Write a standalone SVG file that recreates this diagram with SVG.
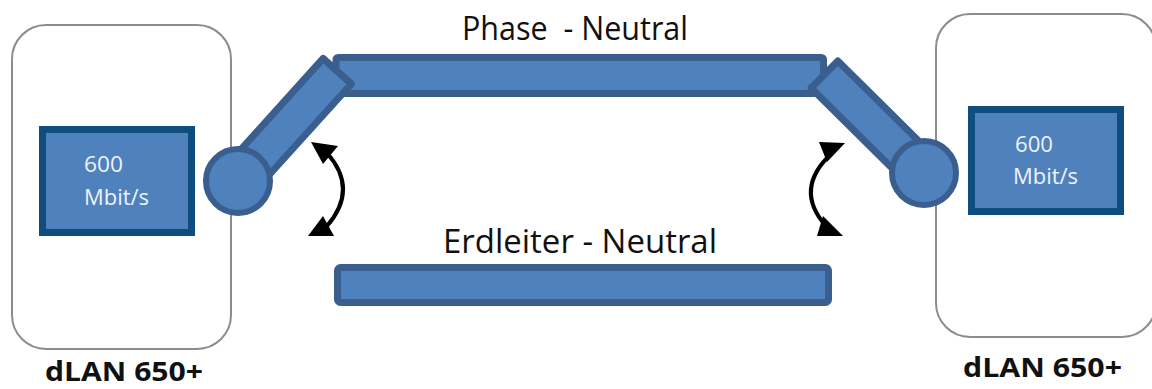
<svg xmlns="http://www.w3.org/2000/svg" width="1152" height="389" viewBox="0 0 1152 389">
<style>
.dev{fill:#ffffff;stroke:#8c8c8c;stroke-width:2}
.chip{fill:#4F81BD;stroke:#0E4D7E;stroke-width:7}
.wire{fill:#4F81BD;stroke:#3A5F8E;stroke-width:7;stroke-linejoin:round}
.joint{fill:#4F81BD;stroke:#3A5F8E;stroke-width:6}
.lbl{font-family:"Open Sans","Noto Sans",sans-serif;fill:#111111;white-space:pre}
.rate{font-family:"Open Sans","Noto Sans",sans-serif;font-size:21px;fill:#EEF3FA}
.name{font-family:"Open Sans","Noto Sans",sans-serif;font-size:26px;font-weight:bold;fill:#111111}
.arc{fill:none;stroke:#000000;stroke-width:4}
.head{fill:#000000}
</style>
<g id="device-left">
<rect class="dev" x="12" y="25" width="219" height="324" rx="34"/>
<rect class="chip" x="42.5" y="129.5" width="149" height="103"/>
<text class="rate" x="84" y="172" textLength="39" lengthAdjust="spacingAndGlyphs">600</text>
<text class="rate" x="84" y="205" textLength="65" lengthAdjust="spacingAndGlyphs">Mbit/s</text>
<text class="name" x="45" y="381" textLength="158" lengthAdjust="spacingAndGlyphs">dLAN 650+</text>
</g>
<g id="device-right">
<rect class="dev" x="936" y="14" width="220" height="323" rx="34"/>
<rect class="chip" x="971.5" y="109.5" width="149" height="102"/>
<text class="rate" x="1015" y="152" textLength="38" lengthAdjust="spacingAndGlyphs">600</text>
<text class="rate" x="1013" y="184" textLength="65" lengthAdjust="spacingAndGlyphs">Mbit/s</text>
<text class="name" x="963" y="377" textLength="159" lengthAdjust="spacingAndGlyphs">dLAN 650+</text>
</g>
<g id="connectors">
<g id="phase-neutral">
<rect class="wire" x="336" y="57.5" width="487.5" height="36" rx="2"/>
<rect class="wire" x="0" y="-19" width="148" height="38" transform="translate(238 181) rotate(-47.9)"/>
<rect class="wire" x="0" y="-19" width="140" height="38" transform="translate(924 173) rotate(-135.3)"/>
<circle class="joint" cx="238" cy="181" r="32"/>
<circle class="joint" cx="924" cy="173" r="32"/>
<text class="lbl" x="462" y="40" font-size="32" textLength="226" lengthAdjust="spacingAndGlyphs" xml:space="preserve">Phase  - Neutral</text>
</g>
<g id="erdleiter-neutral">
<rect class="wire" x="337.5" y="267.5" width="491" height="35" rx="3"/>
<text class="lbl" x="443" y="253" font-size="32" textLength="274" lengthAdjust="spacingAndGlyphs">Erdleiter - Neutral</text>
</g>
<g id="arrow-left">
<path class="arc" d="M327 153 Q359 189 327 226"/>
<polygon class="head" points="311,142 338,146 323,164"/>
<polygon class="head" points="308,236 334,236 323,216"/>
</g>
<g id="arrow-right">
<path class="arc" d="M832 153 Q793 189 826 226"/>
<polygon class="head" points="845,143 819,142 827,162"/>
<polygon class="head" points="843,236 817,236 823,216"/>
</g>
</g>
</svg>
